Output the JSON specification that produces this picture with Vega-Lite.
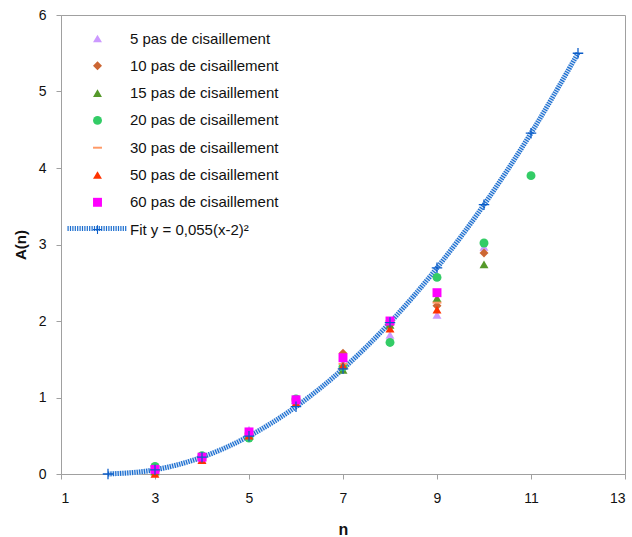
{
  "$schema": "https://vega.github.io/schema/vega-lite/v6.json",
  "autosize": {"type": "none"},
  "width": 564,
  "height": 459,
  "padding": {"left": 61, "top": 15, "right": 7, "bottom": 63},
  "background": "white",
  "config": {
    "font": "Liberation Sans",
    "view": {"stroke": "#a0a0a0", "strokeWidth": 1},
    "axis": {"grid": false, "domainColor": "#a0a0a0", "tickColor": "#a0a0a0", "tickSize": 5, "labelFont": "Liberation Sans", "labelFontSize": 14, "labelColor": "#111", "titleFont": "Liberation Sans", "titleFontWeight": "bold", "titleFontSize": 15, "titleColor": "#111"},
    "legend": {"padding": 0, "labelFont": "Liberation Sans", "labelFontSize": 15, "labelColor": "#111", "labelLimit": 400}
  },
  "datasets": {
    "pts": [
      {"n": 3, "A": 0.05, "s": "5 pas de cisaillement"},
      {"n": 4, "A": 0.19, "s": "5 pas de cisaillement"},
      {"n": 5, "A": 0.58, "s": "5 pas de cisaillement"},
      {"n": 6, "A": 0.95, "s": "5 pas de cisaillement"},
      {"n": 7, "A": 1.45, "s": "5 pas de cisaillement"},
      {"n": 8, "A": 1.82, "s": "5 pas de cisaillement"},
      {"n": 9, "A": 2.08, "s": "5 pas de cisaillement"},
      {"n": 10, "A": 2.97, "s": "5 pas de cisaillement"},
      {"n": 3, "A": 0.03, "s": "10 pas de cisaillement"},
      {"n": 4, "A": 0.2, "s": "10 pas de cisaillement"},
      {"n": 5, "A": 0.52, "s": "10 pas de cisaillement"},
      {"n": 6, "A": 0.95, "s": "10 pas de cisaillement"},
      {"n": 7, "A": 1.58, "s": "10 pas de cisaillement"},
      {"n": 8, "A": 1.95, "s": "10 pas de cisaillement"},
      {"n": 9, "A": 2.2, "s": "10 pas de cisaillement"},
      {"n": 10, "A": 2.89, "s": "10 pas de cisaillement"},
      {"n": 3, "A": 0.03, "s": "15 pas de cisaillement"},
      {"n": 4, "A": 0.22, "s": "15 pas de cisaillement"},
      {"n": 5, "A": 0.5, "s": "15 pas de cisaillement"},
      {"n": 6, "A": 0.97, "s": "15 pas de cisaillement"},
      {"n": 7, "A": 1.36, "s": "15 pas de cisaillement"},
      {"n": 8, "A": 1.95, "s": "15 pas de cisaillement"},
      {"n": 9, "A": 2.3, "s": "15 pas de cisaillement"},
      {"n": 10, "A": 2.74, "s": "15 pas de cisaillement"},
      {"n": 3, "A": 0.1, "s": "20 pas de cisaillement"},
      {"n": 4, "A": 0.24, "s": "20 pas de cisaillement"},
      {"n": 5, "A": 0.47, "s": "20 pas de cisaillement"},
      {"n": 6, "A": 0.98, "s": "20 pas de cisaillement"},
      {"n": 7, "A": 1.4, "s": "20 pas de cisaillement"},
      {"n": 8, "A": 1.72, "s": "20 pas de cisaillement"},
      {"n": 9, "A": 2.57, "s": "20 pas de cisaillement"},
      {"n": 10, "A": 3.02, "s": "20 pas de cisaillement"},
      {"n": 11, "A": 3.9, "s": "20 pas de cisaillement"},
      {"n": 3, "A": 0.05, "s": "30 pas de cisaillement"},
      {"n": 4, "A": 0.2, "s": "30 pas de cisaillement"},
      {"n": 5, "A": 0.53, "s": "30 pas de cisaillement"},
      {"n": 6, "A": 0.97, "s": "30 pas de cisaillement"},
      {"n": 7, "A": 1.44, "s": "30 pas de cisaillement"},
      {"n": 8, "A": 2.0, "s": "30 pas de cisaillement"},
      {"n": 9, "A": 2.24, "s": "30 pas de cisaillement"},
      {"n": 3, "A": 0.0, "s": "50 pas de cisaillement"},
      {"n": 4, "A": 0.18, "s": "50 pas de cisaillement"},
      {"n": 5, "A": 0.5, "s": "50 pas de cisaillement"},
      {"n": 6, "A": 0.93, "s": "50 pas de cisaillement"},
      {"n": 7, "A": 1.42, "s": "50 pas de cisaillement"},
      {"n": 8, "A": 1.9, "s": "50 pas de cisaillement"},
      {"n": 9, "A": 2.15, "s": "50 pas de cisaillement"},
      {"n": 3, "A": 0.06, "s": "60 pas de cisaillement"},
      {"n": 4, "A": 0.22, "s": "60 pas de cisaillement"},
      {"n": 5, "A": 0.55, "s": "60 pas de cisaillement"},
      {"n": 6, "A": 0.97, "s": "60 pas de cisaillement"},
      {"n": 7, "A": 1.52, "s": "60 pas de cisaillement"},
      {"n": 8, "A": 2.0, "s": "60 pas de cisaillement"},
      {"n": 9, "A": 2.37, "s": "60 pas de cisaillement"}
    ],
    "fit": [
      {"n": 2, "A": 0, "s": "Fit y = 0,055(x-2)²"},
      {"n": 3, "A": 0.055, "s": "Fit y = 0,055(x-2)²"},
      {"n": 4, "A": 0.22, "s": "Fit y = 0,055(x-2)²"},
      {"n": 5, "A": 0.495, "s": "Fit y = 0,055(x-2)²"},
      {"n": 6, "A": 0.88, "s": "Fit y = 0,055(x-2)²"},
      {"n": 7, "A": 1.375, "s": "Fit y = 0,055(x-2)²"},
      {"n": 8, "A": 1.98, "s": "Fit y = 0,055(x-2)²"},
      {"n": 9, "A": 2.695, "s": "Fit y = 0,055(x-2)²"},
      {"n": 10, "A": 3.52, "s": "Fit y = 0,055(x-2)²"},
      {"n": 11, "A": 4.455, "s": "Fit y = 0,055(x-2)²"},
      {"n": 12, "A": 5.5, "s": "Fit y = 0,055(x-2)²"}
    ]
  },
  "encoding": {
    "x": {"field": "n", "type": "quantitative", "scale": {"domain": [1, 13], "nice": false, "zero": false}, "axis": {"values": [1, 3, 5, 7, 9, 11, 13], "title": "n", "labelPadding": 12, "titlePadding": 16, "titleFontSize": 16}},
    "y": {"field": "A", "type": "quantitative", "scale": {"domain": [0, 6], "nice": false}, "axis": {"values": [0, 1, 2, 3, 4, 5, 6], "title": "A(n)", "labelPadding": 10, "titlePadding": 10}}
  },
  "layer": [
    {
      "data": {"name": "fit"},
      "mark": {"type": "line", "interpolate": "monotone", "strokeWidth": 5, "color": "#d3e3f6"},
      "encoding": {}
    },
    {
      "data": {"name": "fit"},
      "mark": {"type": "line", "interpolate": "monotone", "strokeWidth": 5, "strokeDash": [1.2, 1.2]},
      "encoding": {
        "stroke": {"datum": "Fit y = 0,055(x-2)²", "type": "nominal", "scale": {"range": ["#1a6dcf"]},
          "legend": {"title": null, "orient": "none", "legendX": 29, "legendY": 206, "symbolType": "M-6,0L6,0", "symbolSize": 100, "symbolStrokeWidth": 5, "symbolDash": [1.2, 1.2], "labelOffset": 25, "labelExpr": "''"}}
      }
    },
    {
      "data": {"name": "pts"},
      "mark": {"type": "point", "filled": true, "opacity": 1, "size": 80},
      "encoding": {
        "color": {"field": "s", "type": "nominal", "sort": null,
          "scale": {"domain": ["5 pas de cisaillement", "10 pas de cisaillement", "15 pas de cisaillement", "20 pas de cisaillement", "30 pas de cisaillement", "50 pas de cisaillement", "60 pas de cisaillement", "Fit y = 0,055(x-2)²"],
            "range": ["#CC99FF", "#CC6633", "#55992A", "#33CC66", "#FF9966", "#FF3300", "#FF00FF", "#0a5cc8"]},
          "legend": {"title": null, "orient": "none", "legendX": 29, "legendY": 16, "symbolSize": 80, "rowPadding": 11.3, "labelOffset": 25, "symbolOpacity": 1}},
        "shape": {"field": "s", "type": "nominal", "sort": null,
          "scale": {"domain": ["5 pas de cisaillement", "10 pas de cisaillement", "15 pas de cisaillement", "20 pas de cisaillement", "30 pas de cisaillement", "50 pas de cisaillement", "60 pas de cisaillement", "Fit y = 0,055(x-2)²"],
            "range": ["triangle-up", "diamond", "triangle-up", "circle", "M-1,-0.22L1,-0.22L1,0.22L-1,0.22Z", "triangle-up", "square", "M-1,-0.12L-0.12,-0.12L-0.12,-1L0.12,-1L0.12,-0.12L1,-0.12L1,0.12L0.12,0.12L0.12,1L-0.12,1L-0.12,0.12L-1,0.12Z"]},
          "legend": {"title": null, "orient": "none", "legendX": 29, "legendY": 16, "symbolSize": 80, "rowPadding": 11.3, "labelOffset": 25, "symbolOpacity": 1}}
      }
    },
    {
      "data": {"name": "fit"},
      "mark": {"type": "point", "filled": true, "opacity": 1, "size": 110},
      "encoding": {
        "color": {"field": "s", "type": "nominal", "sort": null},
        "shape": {"field": "s", "type": "nominal", "sort": null}
      }
    }
  ]
}
